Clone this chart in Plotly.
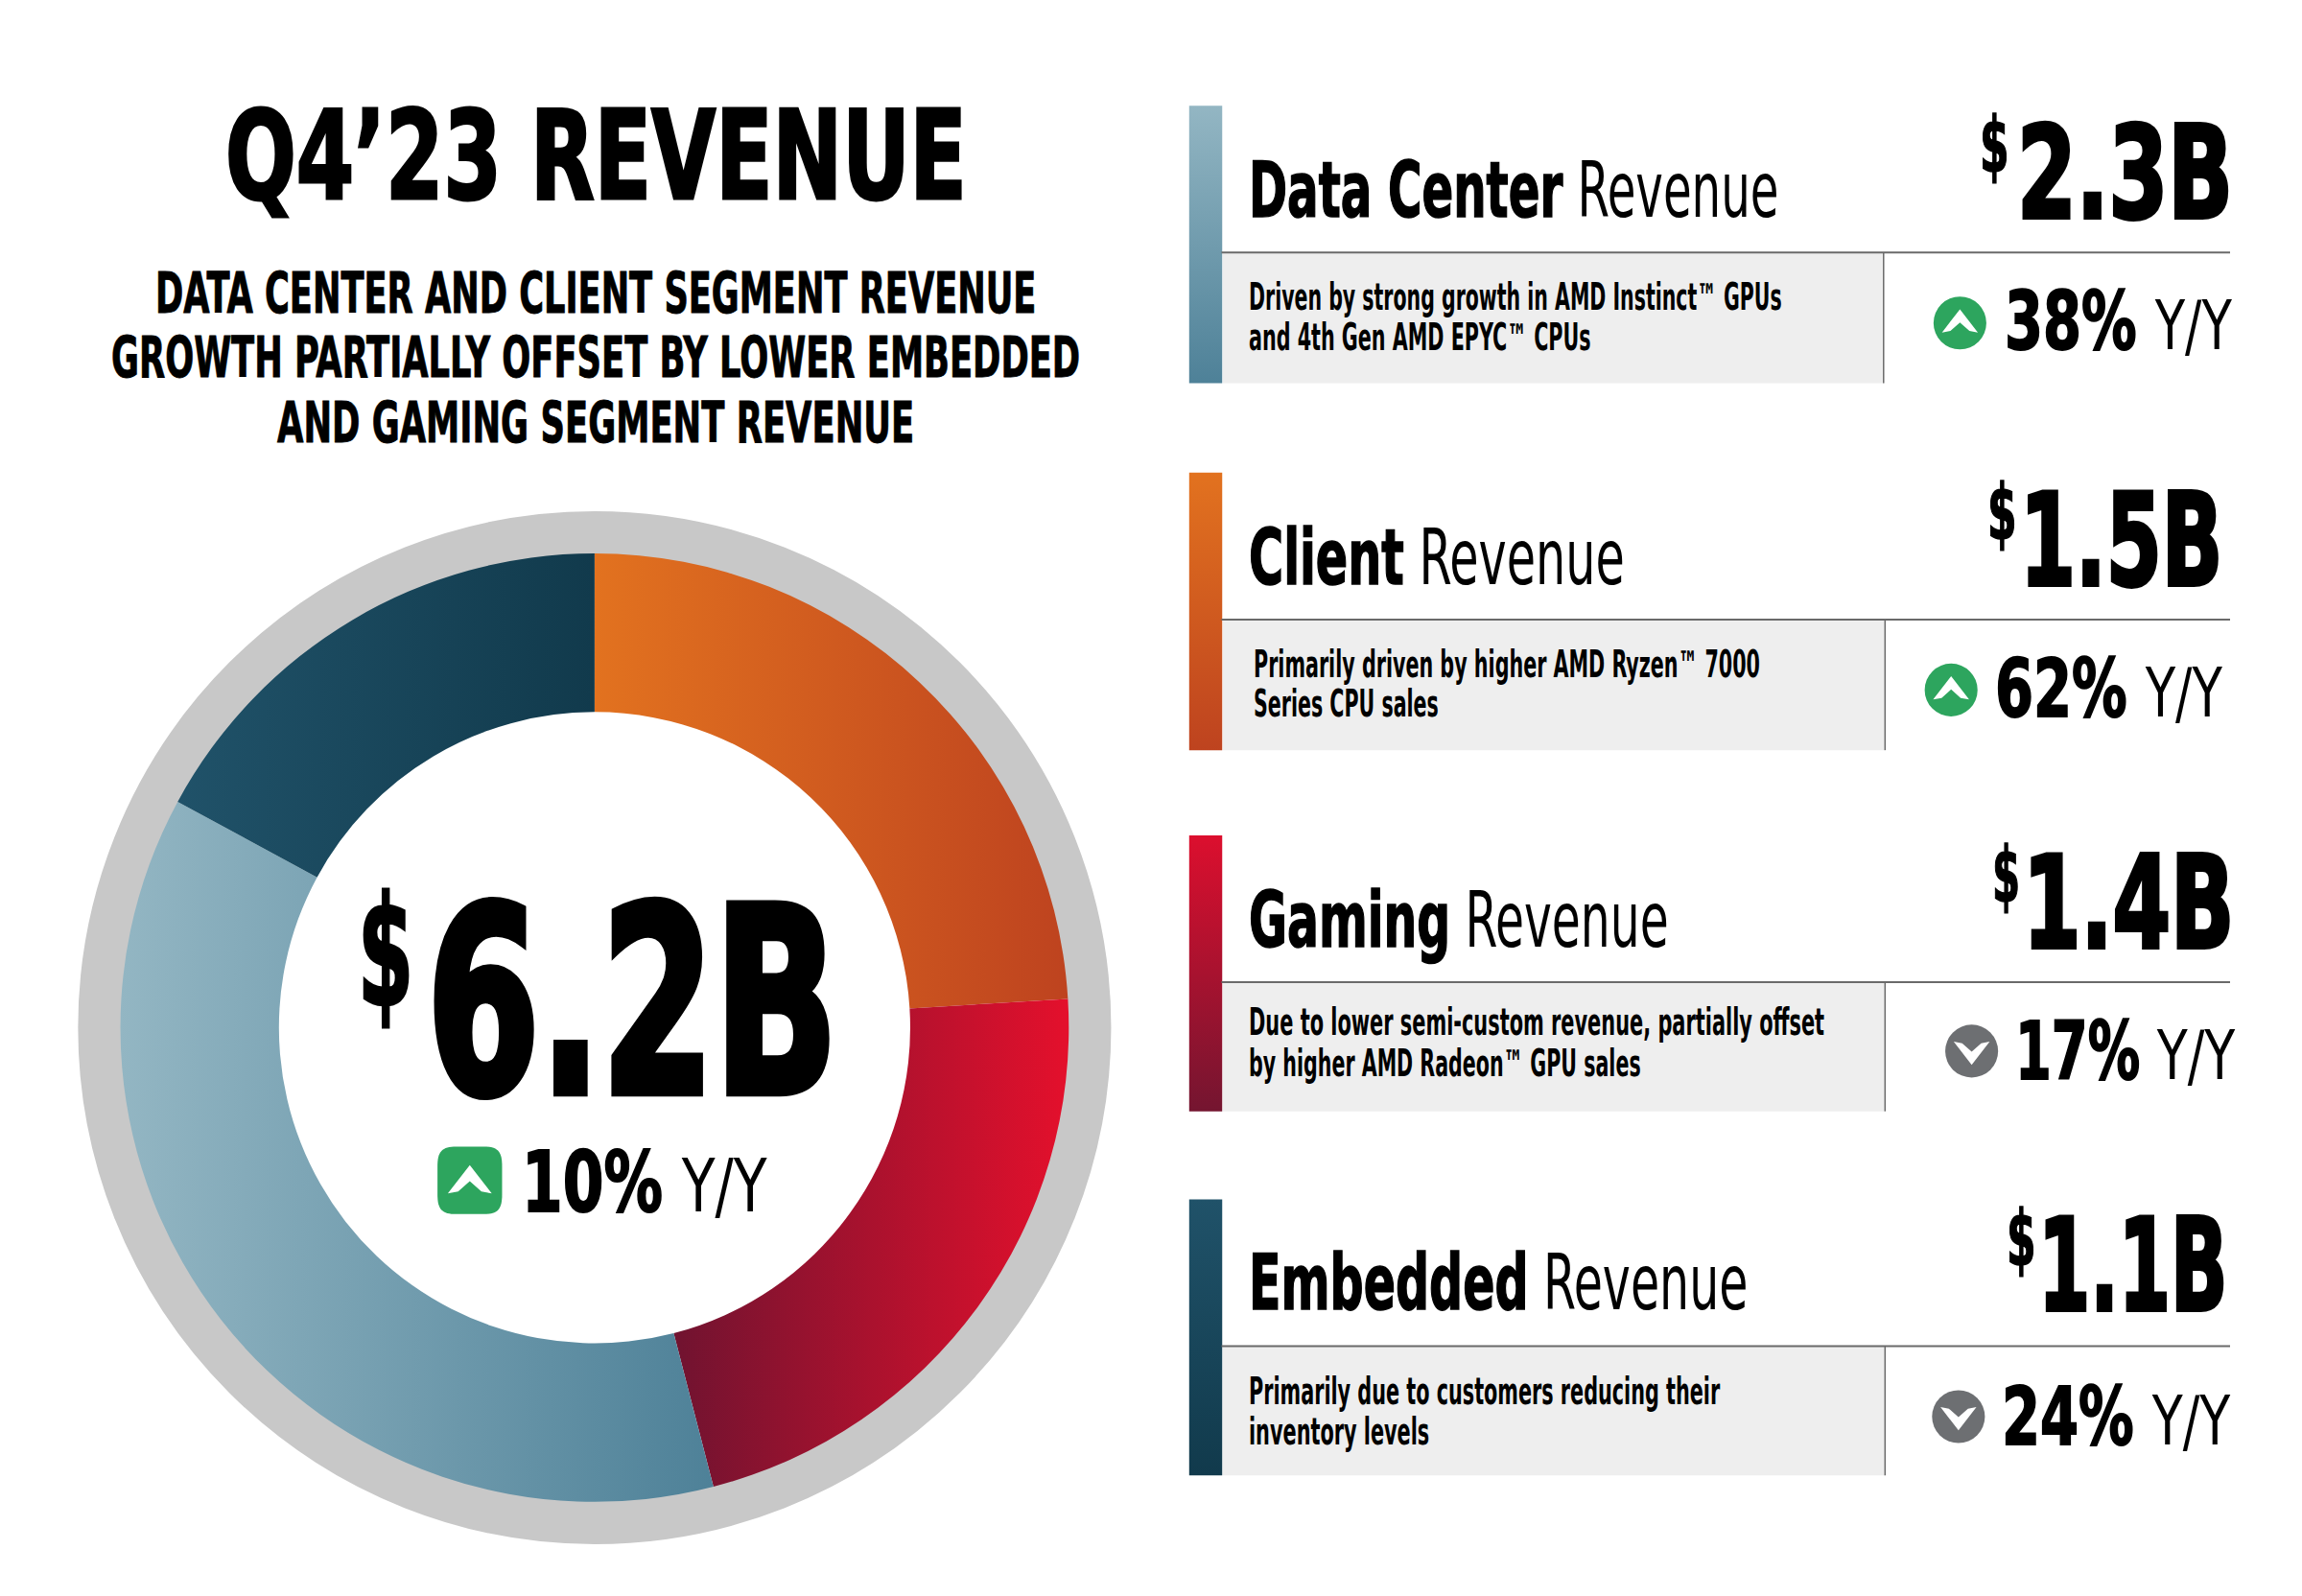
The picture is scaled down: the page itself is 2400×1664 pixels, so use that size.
import json
import plotly.graph_objects as go

# ---------- data ----------
segments = ["Client", "Gaming", "Data Center", "Embedded"]
revenue = [1.49, 1.36, 2.29, 1.06]
revenue_labels = ["2.3B", "1.5B", "1.4B", "1.1B"]
growth_labels = ["38%", "62%", "17%", "24%"]
growth_up = [True, True, False, False]
row_names = ["Data Center", "Client", "Gaming", "Embedded"]
row_notes = [
    ["Driven by strong growth in AMD Instinct™ GPUs", "and 4th Gen AMD EPYC™ CPUs"],
    ["Primarily driven by higher AMD Ryzen™ 7000", "Series CPU sales"],
    ["Due to lower semi-custom revenue, partially offset", "by higher AMD Radeon™ GPU sales"],
    ["Primarily due to customers reducing their", "inventory levels"],
]
title_text = "Q4’23 REVENUE"
subtitle_lines = [
    "DATA CENTER AND CLIENT SEGMENT REVENUE",
    "GROWTH PARTIALLY OFFSET BY LOWER EMBEDDED",
    "AND GAMING SEGMENT REVENUE",
]
total_label = "6.2B"
total_growth = "10%"

# ---------- layout (measured on a 1568-wide grid, scaled to 2400) ----------
W, H = 2400, 1664
S = W / 1568
FONT = "DejaVu Sans Condensed, Liberation Sans Narrow, sans-serif"
px = lambda v: v / W
py = lambda v: 1 - v / H

CX, CY = 405 * S, 700 * S
R_OUT, R_IN, R_RING = 323 * S, 215 * S, 352.5 * S

slice_grads = [("#E2721F", "#BE431F"), ("#701330", "#E4102C"), ("#93B6C3", "#4E8198"), ("#205269", "#113A4C")]
bar_grads = [("#93B6C3", "#4E8198"), ("#E2721F", "#BE431F"), ("#DC0F2E", "#741530"), ("#205269", "#113A4C")]

row_top = [72, 322, 569, 817]
row_bot = [261, 511, 757, 1005]
row_line = [172, 422, 669, 917]
row_vert = [1283, 1284, 1284, 1284]
label_base = [148, 398, 645, 892]
label_right = [1211, 1106, 1136, 1190]
value_x = [(1373, 1520), (1375, 1513), (1377, 1521), (1388, 1517)]
dollar_x = [(1348, 1368), (1353, 1373), (1356, 1375), (1366, 1386)]
dollar_base = [117, 367, 614, 862]
note_x = [850, 853, 850, 850]
note_right = [(1213, 1083), (1198, 979), (1242, 1117), (1171, 973)]
note_base = [(211, 238), (461, 488), (705, 733), (956, 984)]
pct_x = [(1365, 1455), (1358, 1448), (1372, 1457), (1363, 1453)]
yy_x = [(1467, 1520), (1460, 1513), (1468, 1522), (1465, 1519)]
pct_base = [238, 488, 735, 984]
icon_c = [(1335, 220), (1329, 470), (1343, 716), (1334, 965)]

annotations, widths, strokes = [], [], []


def text(x0, x1, base, size, s, bold=False, stroke=0.0, markup=None):
    """Left-anchored text, placed by baseline; x0..x1 is its target extent."""
    size_px = size * S
    annotations.append(dict(
        x=px(x0 * S), y=py(base * S - 0.346 * size_px), xref="paper", yref="paper",
        xanchor="left", yanchor="middle", align="left", showarrow=False,
        text=markup or (f"<b>{s}</b>" if bold else s), borderpad=0,
        font=dict(family=FONT, size=size_px, color="#000000"),
    ))
    widths.append((x1 - x0) * S)
    strokes.append(stroke * S)


text(153, 658, 135, 84, title_text, True, 2.0)
for line, (a, b), base in zip(subtitle_lines, [(105, 705), (75, 735), (188, 622)], [213, 257, 301]):
    text(a, b, base, 38, line, True, 0.6)
text(243, 281, 685, 104, "$", True, 2.0)
text(290, 570, 744, 176, total_label, True, 5.5)
text(355, 451, 825, 57, total_growth, True, 1.2)
text(463, 522, 825, 50, "Y/Y")

for i in range(4):
    text(850, label_right[i], label_base[i], 52, "", stroke=1.0,
         markup=f"<b>{row_names[i]}</b> Revenue")
    text(*value_x[i], label_base[i], 87, revenue_labels[i], True, 2.6)
    text(*dollar_x[i], dollar_base[i], 52, "$", True, 1.0)
    for note, right, base in zip(row_notes[i], note_right[i], note_base[i]):
        text(note_x[i], right, base, 25, note, True)
    text(*pct_x[i], pct_base[i], 55, growth_labels[i], True, 1.2)
    text(*yy_x[i], pct_base[i], 47, "Y/Y")

# ---------- decoration ----------
shapes = []
grad_shapes = {}


def rect(x0, y0, x1, y1, fill):
    shapes.append(dict(type="rect", xref="paper", yref="paper", x0=px(x0 * S), x1=px(x1 * S),
                       y0=py(y0 * S), y1=py(y1 * S), fillcolor=fill, line_width=0, layer="below"))


def seg(x0, y0, x1, y1, color, width):
    shapes.append(dict(type="line", xref="paper", yref="paper", x0=px(x0 * S), x1=px(x1 * S),
                       y0=py(y0 * S), y1=py(y1 * S), line=dict(color=color, width=width), layer="below"))


def poly(points, fill):
    d = "M" + " L".join(f"{px(x * S):.5f},{py(y * S):.5f}" for x, y in points) + " Z"
    shapes.append(dict(type="path", path=d, xref="paper", yref="paper", fillcolor=fill,
                       line_width=0, layer="above"))


def chevron(cx, cy, r, up):
    k = 1 if up else -1
    pts = [(0, -0.52), (0.68, 0.36), (0.36, 0.30), (0, -0.02), (-0.36, 0.30), (-0.68, 0.36)]
    poly([(cx + a * r, cy + k * b * r) for a, b in pts], "#FFFFFF")


def badge(cx, cy, rx, ry, fill):
    """Rounded square with soft (squircle-like) corners."""
    P = lambda a, b: f"{px((cx + a * rx) * S):.5f},{py((cy + b * ry) * S):.5f}"
    k, c = 0.42, 0.86
    d = (f"M{P(-k, -1)} L{P(k, -1)} C{P(c, -1)} {P(1, -c)} {P(1, -k)} L{P(1, k)} "
         f"C{P(1, c)} {P(c, 1)} {P(k, 1)} L{P(-k, 1)} C{P(-c, 1)} {P(-1, c)} {P(-1, k)} "
         f"L{P(-1, -k)} C{P(-1, -c)} {P(-c, -1)} {P(-k, -1)} Z")
    shapes.append(dict(type="path", path=d, xref="paper", yref="paper", fillcolor=fill,
                       line_width=0, layer="above"))


# grey ring around the donut
ring_w = R_RING - R_OUT
shapes.append(dict(type="circle", xref="paper", yref="paper",
                   x0=px(CX - R_OUT - ring_w / 2 + 1), x1=px(CX + R_OUT + ring_w / 2 - 1),
                   y0=py(CY + R_OUT + ring_w / 2 - 1), y1=py(CY - R_OUT - ring_w / 2 + 1),
                   fillcolor="rgba(0,0,0,0)", line=dict(color="#C8C8C8", width=ring_w), layer="below"))

for i in range(4):
    rect(833, row_line[i], row_vert[i], row_bot[i], "#EEEEEE")
    grad_shapes[len(shapes)] = i
    rect(810, row_top[i], 832.5, row_bot[i], bar_grads[i][0])
    seg(832, row_line[i], 1519, row_line[i], "#6A6A6A", 2)
    seg(row_vert[i], row_line[i], row_vert[i], row_bot[i], "#6A6A6A", 1.5)

for (cx, cy), up in zip(icon_c, growth_up):
    color = "#2DA55E" if up else "#6D6F72"
    shapes.append(dict(type="circle", xref="paper", yref="paper", x0=px((cx - 18) * S), x1=px((cx + 18) * S),
                       y0=py((cy + 18) * S), y1=py((cy - 18) * S), fillcolor=color, line_width=0, layer="above"))
    chevron(cx, cy, 18, up)

badge(320, 804, 22, 23, "#2DA55E")
chevron(320, 805, 22, True)

# ---------- figure ----------
fig = go.Figure(go.Pie(
    labels=segments, values=revenue, sort=False, direction="clockwise", rotation=0,
    hole=R_IN / R_OUT, textinfo="none", showlegend=False,
    marker=dict(colors=[a for a, _ in slice_grads], line=dict(width=0)),
    domain=dict(x=[px(CX - R_OUT), px(CX + R_OUT)], y=[py(CY + R_OUT), py(CY - R_OUT)]),
))
fig.update_layout(
    width=W, height=H, margin=dict(l=0, r=0, t=0, b=0), paper_bgcolor="white",
    plot_bgcolor="white", annotations=annotations, shapes=shapes, showlegend=False,
)

post = """
document.body.style.margin = '0';
var gd = document.getElementById('{plot_id}');
var SLICE = %s, BAR = %s, BARIDX = %s, WIDTHS = %s, STROKES = %s;
var NS = 'http://www.w3.org/2000/svg';
function grad(svg, id, c0, c1, vertical) {
  var defs = svg.querySelector('defs');
  var g = document.createElementNS(NS, 'linearGradient');
  g.setAttribute('id', id); g.setAttribute('x1', '0'); g.setAttribute('y1', '0');
  g.setAttribute('x2', vertical ? '0' : '1'); g.setAttribute('y2', vertical ? '1' : '0');
  [[0, c0], [1, c1]].forEach(function (s) {
    var st = document.createElementNS(NS, 'stop');
    st.setAttribute('offset', s[0]); st.setAttribute('stop-color', s[1]); g.appendChild(st);
  });
  defs.appendChild(g);
}
function finish() {
  var svg = gd.querySelector('svg.main-svg');
  gd.querySelectorAll('.slice path.surface').forEach(function (p, i) {
    grad(svg, 'sl' + i, SLICE[i][0], SLICE[i][1], false);
    p.style.fill = 'url(#sl' + i + ')';
  });
  Object.keys(BARIDX).forEach(function (k) {
    var p = gd.querySelector('.shapelayer path[data-index="' + k + '"]');
    var i = BARIDX[k];
    if (p) { grad(svg, 'br' + i, BAR[i][0], BAR[i][1], true); p.style.fill = 'url(#br' + i + ')'; }
  });
  gd.querySelectorAll('.annotation').forEach(function (a, i) {
    var t = a.querySelector('text');
    if (!t) return;
    t.removeAttribute('transform');
    var b = t.getBBox();
    var s = WIDTHS[i] / b.width;
    t.setAttribute('transform', 'translate(' + b.x + ',0) scale(' + s + ',1) translate(' + (-b.x) + ',0)');
    if (STROKES[i] > 0) {
      t.querySelectorAll('tspan').forEach(function (sp) {
        if (sp.style.fontWeight === 'bold') {
          sp.style.stroke = '#000000';
          sp.style.strokeWidth = STROKES[i] + 'px';
          sp.style.strokeLinejoin = 'miter';
        }
      });
    }
  });
}
(document.fonts && document.fonts.ready ? document.fonts.ready : Promise.resolve()).then(finish);
""" % (json.dumps(slice_grads), json.dumps(bar_grads), json.dumps(grad_shapes),
       json.dumps(widths), json.dumps(strokes))

fig.write_html("out.html", post_script=post, config=dict(displayModeBar=False))
